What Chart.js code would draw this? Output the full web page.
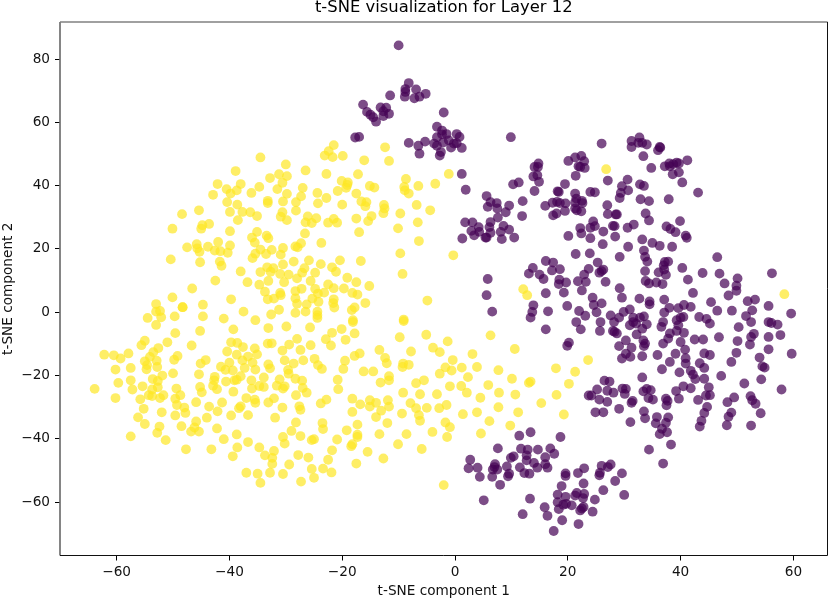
<!DOCTYPE html>
<html>
<head>
<meta charset="utf-8">
<script src="https://cdn.jsdelivr.net/npm/chart.js@4"></script>
<style>
  html, body { margin: 0; padding: 0; background: #fff; }
  #wrap { width: 830px; height: 599px; }
</style>
</head>
<body>
<div id="wrap"><canvas id="myChart"></canvas></div>
<script>
// values, [x, y] in t-SNE units
var yellowPoints = [
  [-38.9,44.6],[-42.1,40.5],[-38.0,40.5],[-40.5,38.9],[-38.7,38.5],[-39.8,37.5],[-36.1,37.7],[-42.9,37.1],[-34.7,39.6],[-34.5,48.9],
  [-40.4,34.8],[-38.6,34.0],[-39.9,31.7],[-37.7,31.7],[-36.3,31.6],[-35.1,30.4],[-38.5,29.1],[-45.4,32.2],[-48.4,31.0],[-50.1,26.4],
  [-44.8,27.5],[-45.0,26.4],[-43.6,27.9],[-39.9,25.6],[-35.1,25.4],[-36.0,23.6],[-35.5,22.0],[-42.0,22.2],[-45.8,21.5],[-39.9,21.1],
  [-47.5,20.5],[-43.8,20.7],[-45.7,20.2],[-45.3,19.1],[-42.6,19.5],[-41.6,19.3],[-40.3,18.8],[-34.5,19.8],[-35.4,18.5],[-35.9,17.1],
  [-50.4,16.7],[-45.2,15.8],[-41.7,16.0],[-41.4,14.7],[-38.0,12.9],[-34.5,12.7],[-42.5,10.0],[-36.8,9.5],[-34.7,8.7],[-46.6,7.5],
  [-50.1,4.7],[-39.7,4.1],[-48.3,1.6],[-48.3,1.6],[-44.7,2.4],[-53.0,2.6],[-53.0,0.2],[-52.3,0.4],[-37.5,0.2],[-54.5,-1.8],
  [-52.1,-1.6],[-49.7,-1.3],[-44.7,-1.3],[-41.0,-2.0],[-35.4,-2.5],
  [-30.0,46.7],[-26.5,44.8],[-31.2,43.6],[-29.8,43.0],[-32.8,42.4],[-30.6,40.9],[-31.5,38.9],[-27.0,39.3],[-29.8,37.4],[-27.3,36.6],
  [-24.4,37.7],[-28.2,34.8],[-30.5,35.0],[-33.2,35.2],[-33.2,34.5],[-22.8,36.1],[-24.3,34.4],[-28.2,32.1],[-30.6,31.6],[-30.9,30.2],
  [-29.8,29.1],[-26.1,30.3],[-24.6,29.7],[-26.5,28.4],[-25.4,28.2],[-22.5,28.3],[-21.5,29.5],[-20.9,28.3],[-21.5,52.8],[-22.4,50.9],
  [-23.1,49.5],[-21.7,49.0],[-19.9,49.4],[-16.1,48.0],[-12.4,52.1],[-11.7,47.8],[-22.8,43.7],[-17.2,43.6],[-1.1,43.7],[-3.5,40.6],
  [-8.7,42.1],[-6.5,39.9],[-9.0,39.6],[-8.9,38.5],[-8.2,37.5],[-20.1,41.5],[-19.0,41.0],[-19.1,40.2],[-19.3,39.3],[-20.8,38.3],
  [-17.5,37.5],[-15.1,39.9],[-14.3,39.4],[-20.0,34.0],[-16.6,35.0],[-15.7,34.8],[-15.9,33.5],[-12.6,33.9],[-12.5,32.8],[-12.7,31.3],
  [-9.7,31.2],[-6.8,33.9],[-4.4,32.2],[-6.6,28.4],[-10.1,26.5],[-14.8,30.4],[-15.4,28.8],[-17.5,29.6],[-17.0,25.3],[-26.6,24.9],
  [-33.4,24.2],[-33.1,23.4],[-23.7,21.9],[-27.3,21.8],[-28.3,20.8],[-27.9,20.5],[-30.5,20.3],[-32.5,19.7],[-33.5,18.4],[-30.9,18.2],
  [-6.4,22.5],[-9.7,18.6],[-0.3,18.0],[-9.3,12.1],[-4.9,3.7],[-25.9,16.4],[-28.6,16.0],[-20.4,16.4],[-16.7,16.2],[-30.5,15.1],
  [-23.8,15.2],[-21.8,14.2],[-21.1,12.8],[-26.7,13.9],[-27.1,12.5],[-24.8,12.5],[-33.3,14.2],[-32.2,13.9],[-32.7,12.8],[-31.0,12.1],
  [-29.5,11.9],[-28.0,10.7],[-33.1,9.9],[-30.3,9.5],[-25.6,9.9],[-19.1,10.9],[-17.5,9.5],[-15.2,8.3],[-22.5,8.8],[-21.5,7.6],
  [-19.7,7.5],[-27.2,7.4],[-24.8,7.4],[-33.7,6.5],[-28.3,6.7],[-31.0,6.1],[-30.9,5.4],[-24.3,5.9],[-23.2,6.2],[-18.2,6.1],
  [-17.3,5.6],[-33.2,4.1],[-32.1,4.3],[-28.3,4.4],[-25.3,4.3],[-21.5,4.1],[-24.2,3.3],[-28.0,2.7],[-26.3,2.5],[-21.6,2.9],
  [-21.4,1.5],[-15.9,2.9],[-17.8,1.5],[-18.3,0.7],[-31.2,0.8],[-32.6,-0.7],[-28.3,-0.2],[-26.5,0.2],[-24.4,0.2],[-24.4,-0.9],
  [-24.4,-1.8],[-18.1,-2.5],[-9.1,-2.3],
  [12.1,7.3],[12.8,5.4],[26.8,45.2],[58.4,5.7],
  [6.3,-7.3],[3.1,-13.2],[10.6,-11.6],[1.2,-17.5],[3.9,-17.3],[7.7,-18.3],[2.3,-20.5],[10.1,-21.0],[5.9,-23.0],[1.1,-23.3],
  [2.1,-25.4],[7.8,-25.4],[10.7,-26.0],[4.5,-27.0],[7.7,-30.0],[3.9,-31.6],[1.4,-32.2],[11.2,-31.6],[6.1,-34.4],[9.8,-35.8],
  [4.6,-38.3],[17.9,-17.7],[21.3,-18.8],[23.6,-15.1],[20.2,-22.6],[18.0,-26.1],[15.3,-28.7],[19.3,-32.3],[13.1,-22.3],[13.4,-21.9],
  [-53.0,-4.0],[-49.6,-6.6],[-45.2,-5.9],[-39.3,-5.4],[-51.0,-9.5],[-46.7,-10.5],[-55.0,-9.0],[-55.6,-10.4],[-52.6,-11.3],[-39.7,-9.5],
  [-38.6,-9.7],[-37.6,-11.0],[-35.5,-11.4],[-53.5,-12.6],[-40.4,-12.4],[-38.7,-13.4],[-35.1,-13.3],[-62.2,-13.4],[-60.5,-13.6],[-59.3,-14.6],
  [-57.9,-13.0],[-54.1,-14.1],[-49.2,-13.8],[-49.8,-15.0],[-44.2,-15.1],[-45.1,-16.2],[-55.0,-15.5],[-52.9,-15.3],[-54.6,-16.7],[-54.7,-18.0],
  [-52.8,-17.3],[-57.5,-17.6],[-60.2,-18.1],[-36.7,-14.0],[-37.7,-15.2],[-35.9,-15.9],[-37.3,-17.6],[-35.4,-18.1],[-40.0,-15.9],[-41.5,-17.2],
  [-40.7,-18.2],[-39.4,-18.4],[-50.0,-19.3],[-45.4,-19.6],[-51.9,-20.0],[-42.6,-20.4],[-38.0,-20.2],[-53.6,-21.1],[-42.7,-21.5],[-52.7,-21.7],
  [-57.5,-21.5],[-59.7,-22.3],[-40.6,-21.9],[-39.1,-21.5],[-38.7,-21.3],[-36.1,-21.5],[-55.4,-23.4],[-52.7,-23.7],[-63.9,-24.2],[-57.2,-24.4],
  [-49.4,-24.1],[-45.2,-23.6],[-42.9,-23.2],[-42.2,-24.3],[-36.0,-24.1],[-34.7,-23.3],[-53.7,-24.4],[-44.9,-25.3],[-39.3,-25.1],[-51.7,-26.2],
  [-54.3,-26.2],[-53.7,-26.5],[-52.3,-27.1],[-48.7,-26.2],[-60.2,-27.1],[-55.8,-27.5],[-49.6,-27.3],[-37.0,-27.1],[-35.5,-27.6],[-35.4,-28.6],
  [-45.9,-28.4],[-41.3,-28.5],[-49.3,-29.3],[-43.6,-29.8],[-38.0,-29.7],[-38.3,-30.3],[-48.0,-30.1],[-55.2,-30.5],[-42.1,-31.3],[-52.0,-31.6],
  [-47.8,-31.8],[-49.6,-32.6],[-39.7,-32.6],[-36.7,-32.5],[-56.2,-33.2],[-44.0,-33.3],[-45.9,-34.5],[-55.0,-35.3],[-48.5,-36.0],[-52.4,-36.1],
  [-46.2,-36.4],[-42.2,-36.7],[-46.8,-37.7],[-45.4,-37.7],[-52.8,-38.1],[-38.7,-38.6],[-57.5,-39.2],[-41.0,-40.1],[-36.7,-41.0],[-51.3,-40.4],
  [-47.7,-43.3],[-43.2,-43.3],[-38.6,-42.7],[-34.7,-42.7],[-39.4,-45.5],[-37.0,-50.7],[-35.0,-51.0],[-34.5,-53.9],
  [-33.1,-5.0],[-29.9,-4.5],[-25.7,-4.8],[-20.1,-5.3],[-18.1,-3.1],[-21.8,-6.5],[-17.8,-6.7],[-9.1,-2.8],[-9.8,-7.9],[-5.1,-7.1],
  [-28.0,-8.4],[-22.9,-8.5],[-19.4,-8.7],[-33.2,-9.9],[-32.5,-9.8],[-29.4,-10.2],[-25.6,-10.4],[-22.0,-10.5],[-1.3,-9.2],[-3.9,-11.2],
  [-30.6,-12.1],[-27.4,-11.9],[-13.4,-11.9],[-7.8,-12.4],[-2.7,-12.6],[-16.9,-13.0],[-17.8,-13.8],[-12.4,-14.4],[-24.9,-14.7],[-30.2,-15.2],
  [-26.9,-15.2],[-19.5,-15.3],[-0.4,-15.1],[-28.6,-16.2],[-12.1,-16.1],[-24.3,-16.7],[-33.1,-16.5],[-9.2,-16.2],[-8.2,-16.6],[-9.3,-17.3],
  [-32.8,-17.7],[-23.6,-17.9],[-19.8,-17.9],[-1.7,-17.4],[-29.6,-18.2],[-16.2,-18.7],[-14.5,-18.7],[-0.6,-18.4],[-29.5,-19.4],[-2.7,-19.4],
  [-11.7,-20.2],[-33.9,-20.6],[-28.3,-21.0],[-20.8,-21.3],[-31.1,-21.2],[-27.1,-21.6],[-13.2,-22.2],[-11.7,-21.5],[-5.5,-21.5],[-6.9,-22.4],
  [-31.6,-23.2],[-30.2,-23.4],[-33.9,-23.6],[-27.0,-23.9],[-30.5,-24.1],[-20.7,-24.3],[-0.9,-23.4],[-26.3,-25.4],[-9.2,-25.4],[-28.2,-26.2],
  [-6.2,-25.9],[-3.2,-25.9],[-32.1,-27.2],[-33.1,-28.5],[-22.8,-27.6],[-23.8,-28.8],[-18.2,-27.3],[-15.1,-27.8],[-16.8,-29.1],[-14.0,-28.6],
  [-11.9,-27.8],[-15.1,-29.8],[-11.7,-29.8],[-7.9,-28.7],[-30.6,-30.1],[-27.6,-29.7],[-27.4,-30.8],[-13.1,-31.1],[-18.2,-31.5],[-6.9,-30.3],
  [-5.0,-30.2],[-2.8,-30.3],[-1.5,-29.3],[-9.4,-32.0],[-6.4,-32.5],[-31.9,-33.3],[-14.0,-33.1],[-6.2,-34.3],[-28.2,-34.8],[-23.5,-35.0],
  [-12.0,-35.0],[-17.3,-35.5],[-1.7,-34.8],[-23.4,-36.9],[-0.9,-36.3],[-19.2,-37.3],[-29.0,-37.5],[-4.0,-37.8],[-27.4,-39.1],[-13.4,-38.5],
  [-8.6,-38.5],[-17.3,-38.7],[-17.3,-39.4],[-30.5,-39.4],[-1.4,-39.4],[-25.4,-40.4],[-25.0,-40.1],[-20.9,-40.2],[-30.2,-41.5],[-10.1,-41.7],
  [-18.2,-41.7],[-18.4,-42.3],[-21.8,-43.6],[-5.9,-43.2],[-32.1,-43.8],[-15.5,-44.1],[-33.7,-45.2],[-27.8,-45.1],[-26.0,-45.9],[-32.4,-46.0],
  [-12.7,-46.2],[-22.5,-46.6],[-32.4,-47.9],[-29.4,-48.1],[-17.5,-47.8],[-25.4,-49.5],[-23.4,-49.4],[-32.8,-50.7],[-21.9,-50.6],[-30.5,-51.1],
  [-25.0,-52.3],[-27.3,-53.5],[-2.0,-54.6]
];

var purplePoints = [
  [-10.0,84.3],[-8.2,72.4],[-8.8,70.5],[-6.9,70.4],[-5.2,69.0],[-8.9,68.1],[-7.2,67.6],[-6.3,68.1],[-8.8,69.6],[-11.5,68.5],
  [-16.3,65.6],[-15.6,63.3],[-15.0,62.4],[-13.2,64.7],[-12.2,64.6],[-12.7,63.5],[-11.7,62.7],[-12.7,62.0],[-14.5,61.6],[-14.0,60.2],
  [-2.0,63.1],[-3.2,58.6],[-2.3,57.4],[-1.5,56.3],[-2.3,56.2],[0.3,56.3],[0.8,55.4],[-3.2,55.3],[-17.7,55.2],[-17.0,55.4],
  [-8.2,53.5],[-5.3,53.9],[-6.5,52.6],[-3.7,53.3],[-3.2,52.6],[-2.1,53.6],[-1.1,54.3],[-0.7,52.0],[-0.2,53.3],[0.3,53.4],
  [1.2,51.9],[-6.3,50.1],[-2.5,50.6],[-2.7,49.5],[9.9,55.3],[1.2,43.7],[1.9,38.7],[5.6,36.7],[6.3,34.8],[5.8,33.3],
  [7.4,34.5],[7.5,32.8],[9.0,31.6],[9.6,33.7],[12.0,35.1],[11.9,30.4],[10.3,40.4],[11.3,41.0],[14.1,38.3],[14.1,45.9],
  [14.8,47.0],[14.7,45.9],[13.9,42.9],[14.6,43.3],[14.9,41.2],
  [7.6,29.9],[6.3,28.5],[1.8,28.4],[3.1,28.4],[6.1,26.9],[4.2,26.9],[8.6,27.3],[8.1,25.4],[9.6,26.1],[2.9,25.7],
  [4.3,25.4],[3.4,24.3],[6.3,25.1],[5.6,23.6],[5.4,23.6],[8.3,23.1],[10.5,23.6],[1.3,23.3],[5.8,10.5],[5.6,5.4],
  [6.6,0.2],[16.1,6.0],[16.5,0.3],[13.9,2.2],[13.7,0.1],[13.4,-1.7],[19.9,2.0],[19.3,6.2],[13.1,12.2],[13.8,14.0],
  [15.0,11.9],[15.7,10.5],[16.1,16.2],[17.4,15.7],[18.6,13.6],[17.2,13.2],[18.5,10.3],[18.4,8.9],[19.7,9.4],[21.4,18.4],
  [23.9,18.6],[25.3,15.7],[23.7,13.7],[22.9,11.9],[21.8,9.8],[23.2,9.6],[22.5,6.9],[25.6,12.5],[26.3,13.5],[26.0,13.0],
  [26.7,9.6],[24.4,4.6],[24.6,2.3],[26.0,2.8],[22.0,0.4],[23.1,-1.1],[25.1,0.0],[29.2,7.6],[29.6,4.6],[29.2,17.5],
  [30.7,20.7],[26.2,21.5],[20.1,24.1],[24.0,23.4],[28.4,23.9],[22.4,24.9],[22.2,26.6],[26.3,25.5],[24.0,26.7],[24.5,28.7],
  [24.8,27.2],[28.3,27.2],[28.0,27.3],[30.6,26.7],[27.0,33.8],[27.1,31.0],[28.5,30.9],[28.7,30.9],[24.0,38.0],[24.8,37.9],
  [16.0,33.6],[17.3,34.6],[17.4,30.6],[18.0,31.2],[18.2,38.2],[18.4,38.0],[19.5,40.5],[18.1,34.9],[18.6,34.5],[19.6,34.4],
  [19.5,32.0],[21.3,37.5],[21.5,35.9],[21.3,34.7],[22.5,35.2],[22.6,34.5],[21.3,32.8],[22.4,31.9],[21.6,32.2],[21.4,43.1],
  [20.1,47.8],[21.3,48.9],[22.4,49.4],[22.9,47.7],[21.9,46.1],[23.0,45.6],[22.2,45.9],[26.0,53.3],[27.1,41.6],[29.6,39.8],
  [29.4,37.7],[30.7,38.5],[29.2,36.1],[30.6,41.9],
  [32.7,55.2],[31.3,54.1],[31.3,52.2],[32.5,53.5],[33.2,53.5],[34.0,53.0],[36.3,52.2],[36.0,51.2],[36.4,52.0],[33.4,49.3],
  [34.8,45.6],[37.2,46.1],[38.0,47.0],[38.1,46.1],[38.7,46.8],[39.3,47.3],[39.7,47.0],[41.2,48.0],[38.6,43.6],[39.7,44.2],
  [40.3,41.0],[43.1,37.8],[32.8,40.4],[33.5,39.9],[32.9,35.7],[34.4,35.1],[37.9,35.7],[33.8,31.2],[34.4,29.0],[31.7,27.7],
  [39.9,28.8],[37.5,27.1],[38.2,26.3],[39.1,25.3],[40.9,24.2],[41.1,23.5],[33.2,23.0],[35.0,21.9],[36.3,21.0],[38.5,20.7],
  [33.5,19.5],[33.7,17.5],[34.1,16.0],[46.5,17.4],[37.2,15.9],[37.8,16.0],[37.0,14.8],[40.3,14.0],[33.7,13.0],[36.1,12.6],
  [37.1,13.5],[37.4,11.8],[43.9,12.4],[46.9,12.2],[41.3,10.3],[50.1,10.7],[56.2,12.3],[33.8,9.9],[34.4,9.1],[35.7,9.4],
  [36.8,8.9],[47.8,9.1],[49.9,8.4],[49.9,6.8],[42.2,6.1],[48.5,5.3],[32.7,4.3],[34.5,3.4],[34.5,2.5],[37.1,4.0],
  [38.0,1.4],[39.6,1.3],[40.6,2.3],[41.8,1.7],[45.4,3.2],[51.9,3.5],[53.2,4.0],[55.6,2.0],[46.5,0.5],[49.1,0.5],
  [52.7,0.6],[59.6,-0.4],[51.6,-1.2],[37.1,-0.1],[33.5,-1.3],[32.8,-1.7],[31.6,-1.7],[31.0,0.9],[40.0,-1.7],[40.5,-1.5],
  [43.3,-1.5],[44.6,-2.1],
  [45.2,-3.6],[52.5,-3.1],[50.3,-4.7],[55.6,-3.1],[56.1,-3.4],[57.2,-3.9],[57.7,-7.2],[55.6,-7.8],[55.6,-11.7],[59.7,-13.1],
  [53.0,-6.8],[52.5,-7.8],[52.3,-10.2],[50.1,-9.1],[46.8,-7.9],[49.9,-12.8],[49.0,-15.7],[54.0,-14.3],[54.5,-17.1],[54.9,-17.5],
  [54.3,-21.2],[51.3,-22.5],[57.9,-24.4],[47.2,-20.1],[52.4,-26.5],[52.7,-27.8],[53.3,-28.9],[49.5,-26.9],[48.3,-28.4],[54.2,-31.9],
  [49.0,-31.7],[48.5,-33.0],[48.2,-35.7],[52.5,-35.8],[45.0,-23.7],[45.2,-26.2],[44.5,-26.3],[43.1,-27.7],[44.7,-29.9],[44.2,-31.8],
  [43.7,-34.3],[43.4,-36.1],[42.5,-8.6],[44.0,-8.6],[40.0,-9.4],[40.8,-11.8],[44.2,-13.0],[45.2,-13.5],[43.4,-16.1],[44.2,-17.6],
  [40.9,-14.5],[40.9,-16.2],[41.8,-18.5],[42.2,-19.7],[42.6,-21.1],[44.2,-21.0],[39.1,-13.1],[38.1,-15.7],[35.9,-13.5],[33.2,-13.9],
  [36.7,-18.0],[39.8,-19.0],[33.2,-20.6],[40.5,-23.4],[41.8,-24.0],[39.2,-24.9],[39.7,-27.3],[33.4,-25.0],[34.0,-24.2],[34.7,-24.6],
  [34.3,-27.1],[35.1,-27.6],[37.4,-27.3],[37.7,-28.0],[37.5,-29.4],[33.5,-31.3],[33.7,-33.5],[35.8,-33.1],[37.8,-33.2],[35.6,-35.1],
  [37.4,-34.9],[36.7,-36.8],[37.6,-37.9],[36.3,-38.5],[38.3,-41.8],[34.4,-43.4],[36.9,-47.8],[31.5,-28.0],[31.3,-28.6],[31.1,-34.7],
  [31.1,-14.1],[31.3,-11.2],[32.2,-7.0],[33.2,-5.2],[34.0,-3.8],[31.6,-3.1],[31.0,-4.1],[32.1,-3.6],[36.6,-4.6],[36.9,-3.1],
  [39.3,-2.5],[39.6,-4.1],[39.3,-5.9],[40.6,-6.5],[38.1,-6.7],[37.8,-8.3],[36.9,-9.9],[33.4,-8.9],[33.7,-9.9],[33.5,-10.7],
  [16.1,-5.4],[21.5,-3.1],[22.3,-5.4],[25.8,-3.1],[25.7,-5.9],[27.6,-1.0],[28.2,-3.1],[29.1,-1.7],[29.9,0.1],[28.0,-5.9],
  [28.7,-6.7],[28.3,-6.2],[30.3,-8.9],[29.1,-10.7],[30.3,-13.1],[29.6,-14.6],[20.2,-9.6],[19.9,-10.6],[25.2,-24.4],[26.5,-21.6],
  [27.4,-21.9],[23.7,-26.3],[24.2,-26.3],[25.6,-27.6],[27.0,-24.8],[27.0,-28.3],[28.1,-25.4],[29.7,-24.1],[30.3,-24.2],[30.1,-25.8],
  [29.1,-30.5],[24.9,-31.6],[26.3,-31.6],[18.7,-39.4],[13.4,-37.9],[11.4,-39.0],[7.6,-43.0],[11.7,-43.1],[12.9,-43.4],[14.7,-43.4],
  [16.9,-43.0],[17.6,-44.7],[16.0,-45.8],[10.4,-45.5],[9.9,-46.0],[12.7,-45.2],[12.7,-46.8],[14.0,-47.6],[16.0,-48.0],[14.6,-49.1],
  [16.4,-49.1],[11.5,-49.0],[12.3,-50.8],[13.2,-51.0],[9.2,-48.7],[7.1,-48.0],[7.0,-48.9],[6.7,-49.7],[7.5,-49.7],[9.6,-51.0],
  [9.4,-51.8],[6.6,-52.0],[8.0,-54.5],[2.7,-46.6],[2.4,-49.3],[4.0,-49.1],[4.4,-52.0],[5.1,-59.4],[13.3,-58.9],[12.0,-63.8],
  [15.9,-61.6],[16.4,-64.3],[19.0,-65.7],[17.5,-69.1],[21.9,-66.9],[24.4,-63.0],[22.5,-62.0],[22.2,-62.6],[24.8,-59.2],[26.3,-56.2],
  [30.0,-57.7],[28.4,-53.3],[29.6,-50.9],[27.6,-48.1],[27.1,-48.9],[26.0,-48.5],[25.7,-50.7],[25.6,-51.5],[22.9,-49.3],[21.8,-50.8],
  [22.8,-54.1],[19.6,-50.9],[19.6,-51.7],[18.9,-54.9],[18.2,-57.6],[19.6,-58.3],[21.6,-57.1],[22.9,-57.4],[22.7,-58.7],[20.7,-61.0],
  [19.2,-60.8],[18.2,-60.0],[18.4,-62.2],[19.7,-60.5],[21.3,-57.9],[22.8,-61.5]
];

var xTickValues = [-60, -40, -20, 0, 20, 40, 60];
var yTickValues = [-60, -40, -20, 0, 20, 40, 60, 80];

var toXY = function (p) { return { x: p[0], y: p[1] }; };
var fixTicks = function (list) {
  return function (scale) { scale.ticks = list.map(function (v) { return { value: v }; }); };
};
var minusLabel = function (v) { return v < 0 ? '\u2212' + Math.abs(v) : '' + v; };
var font = 'DejaVu Sans';

// the four spines are not alike in the picture: left and top come out grey and thicker
var framePlugin = {
  id: 'frame',
  afterDatasetsDraw: function (chart) {
    var a = chart.chartArea, c = chart.ctx;
    var line = function (x1, y1, x2, y2, col, w) {
      c.strokeStyle = col;
      c.lineWidth = w;
      c.beginPath();
      c.moveTo(x1, y1);
      c.lineTo(x2, y2);
      c.stroke();
    };
    c.save();
    line(a.left, a.top, a.left, a.bottom, '#707070', 1.7);
    line(a.left, a.top, a.right, a.top, '#808080', 1.7);
    line(a.left, a.bottom, a.right, a.bottom, '#111', 1);
    line(a.right, a.top, a.right, a.bottom, '#111', 1);
    c.restore();
  }
};

new Chart(document.getElementById('myChart'), {
  type: 'scatter',
  data: {
    datasets: [
      { data: purplePoints.map(toXY), backgroundColor: 'rgba(68,1,84,0.7)', pointRadius: 4.9, borderWidth: 0 },
      { data: yellowPoints.map(toXY), backgroundColor: 'rgba(253,231,37,0.7)', pointRadius: 4.9, borderWidth: 0 }
    ]
  },
  options: {
    responsive: true,
    maintainAspectRatio: false,
    animation: false,
    layout: { autoPadding: false, padding: { left: 0, right: 2.5, top: 0, bottom: 0 } },
    plugins: {
      legend: { display: false },
      tooltip: { enabled: false },
      title: {
        display: true,
        fullSize: false,
        text: 't-SNE visualization for Layer 12',
        color: '#000',
        font: { family: font, size: 16.4, weight: 'normal' },
        padding: { top: -2, bottom: 4.3 }
      }
    },
    scales: {
      x: {
        type: 'linear', min: -70.04, max: 66.05,
        afterBuildTicks: fixTicks(xTickValues),
        afterFit: function (s) { s.height = 43.5; },
        grid: { drawOnChartArea: false, color: '#000', tickLength: 5 },
        border: { display: false },
        ticks: { color: '#111', font: { family: font, size: 13.65 }, padding: 4, maxRotation: 0, autoSkip: false,
          callback: minusLabel },
        title: { display: true, text: 't-SNE component 1', color: '#111', font: { family: font, size: 13.65 }, padding: { top: 3, bottom: -1 } }
      },
      y: {
        type: 'linear', min: -76.84, max: 91.7,
        afterBuildTicks: fixTicks(yTickValues),
        afterFit: function (s) { s.width = 60; },
        grid: { drawOnChartArea: false, color: '#000', tickLength: 5 },
        border: { display: false },
        ticks: { color: '#111', font: { family: font, size: 13.65 }, padding: 5, autoSkip: false, callback: minusLabel },
        title: { display: true, text: 't-SNE component 2', color: '#111', font: { family: font, size: 13.65 }, padding: { top: 0, bottom: 0 } }
      }
    }
  },
  plugins: [framePlugin]
});
</script>
</body>
</html>
